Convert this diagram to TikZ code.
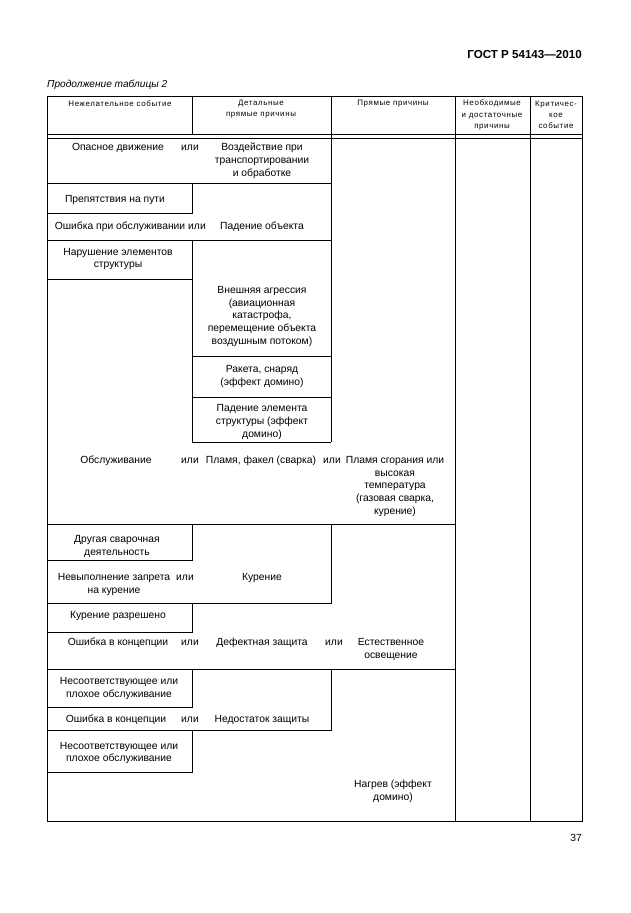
\documentclass[tikz,border=0pt]{standalone}
\usepackage{fontspec}
\setmainfont{Liberation Sans}
\newfontfamily\hdrfont[LetterSpace=8]{Liberation Sans}
\tikzset{
  cell/.style={font=\fontsize{9.8}{12.3}\selectfont, align=center, inner sep=0pt},
  hcell/.style={font=\hdrfont\fontsize{7.5}{10.6}\selectfont, align=center, inner sep=0pt},
  rule/.style={line width=0.6pt}
}
\begin{document}
\begin{tikzpicture}[x=0.3333mm, y=-0.3333mm]
\useasboundingbox (0,0) rectangle (630,913);

\node[font=\bfseries\fontsize{11}{13}\selectfont, anchor=east, inner sep=0pt] (gost) at (582,55) {ГОСТ Р 54143---2010};
\node[font=\itshape\fontsize{9.6}{11}\selectfont, anchor=west, inner sep=0pt] (cont) at (47,85) {Продолжение таблицы 2};
\node[cell, anchor=east] (page) at (582,838) {37};

\draw[rule] (47,96) rectangle (582,821);
\draw[rule] (47,134) -- (582,134);
\draw[rule] (47,138) -- (582,138);
\draw[rule] (192,96) -- (192,134);
\draw[rule] (331,96) -- (331,442);
\draw[rule] (455,96) -- (455,821);
\draw[rule] (530,96) -- (530,821);

\node[hcell] (h1) at (120,104) {Нежелательное событие};
\node[hcell] (h2) at (261,109.5) {Детальные\\прямые причины};
\node[hcell] (h3) at (393,104) {Прямые причины};
\node[hcell] (h4) at (492,115) {Необходимые\\и достаточные\\причины};
\node[hcell] (h5) at (556,115) {Критичес-\\кое\\событие};

\foreach \a/\b in {183/213, 524/560, 603/632, 669/707, 730/772} {
        \draw[rule] (47,\b) -- (192,\b) -- (192,\a);
}
\draw[rule] (47,183) -- (331,183);
\draw[rule] (47,240) -- (331,240);
\draw[rule] (47,279) -- (192,279);
\draw[rule] (192,240) -- (192,442) -- (331,442);
\draw[rule] (192,356) -- (331,356);
\draw[rule] (192,397) -- (331,397);
\draw[rule] (47,524) -- (455,524);
\draw[rule] (331,524) -- (331,603) -- (47,603);
\draw[rule] (47,669) -- (455,669);
\draw[rule] (331,669) -- (331,730) -- (47,730);

\node[cell] (move) at (118,148) {Опасное движение};
\node[cell] (or1) at (190,148) {или};
\node[cell] (transp) at (262,161) {Воздействие при\\транспортировании\\и обработке};
\node[cell] (block) at (115,200) {Препятствия на пути};
\node[cell] (err1) at (120,227) {Ошибка при обслуживании};
\node[cell] (or2) at (197,227) {или};
\node[cell] (fall) at (262,227) {Падение объекта};
\node[cell] (broken) at (118,259) {Нарушение элементов\\структуры};
\node[cell] (aggr) at (262,316.5) {Внешняя агрессия\\(авиационная\\катастрофа,\\перемещение объекта\\воздушным потоком)};
\node[cell] (rocket) at (262,376.5) {Ракета, снаряд\\(эффект домино)};
\node[cell] (domino) at (262,422) {Падение элемента\\структуры (эффект\\домино)};

\node[cell] (service) at (116,461) {Обслуживание};
\node[cell] (or3) at (190,461) {или};
\node[cell] (torch) at (261,461) {Пламя, факел (сварка)};
\node[cell] (or4) at (332,461) {или};
\node[cell] (flame) at (395,486.5) {Пламя сгорания или\\высокая\\температура\\(газовая сварка,\\курение)};

\node[cell] (weld) at (117,546) {Другая сварочная\\деятельность};
\node[cell] (nosmoke) at (114,584.5) {Невыполнение запрета\\на курение};
\node[cell] (or5) at (185,578) {или};
\node[cell] (smoke) at (262,578) {Курение};
\node[cell] (smokeok) at (118,616) {Курение разрешено};

\node[cell] (concept1) at (118,643) {Ошибка в концепции};
\node[cell] (or6) at (190,643) {или};
\node[cell] (defect) at (262,643) {Дефектная защита};
\node[cell] (or7) at (334,643) {или};
\node[cell] (light) at (391,649.5) {Естественное\\освещение};
\node[cell] (poor1) at (119,688.5) {Несоответствующее или\\плохое обслуживание};
\node[cell] (concept2) at (116,720) {Ошибка в концепции};
\node[cell] (or8) at (190,720) {или};
\node[cell] (lack) at (262,720) {Недостаток защиты};
\node[cell] (poor2) at (119,753) {Несоответствующее или\\плохое обслуживание};
\node[cell] (heat) at (393,791) {Нагрев (эффект\\домино)};

\end{tikzpicture}
\end{document}
